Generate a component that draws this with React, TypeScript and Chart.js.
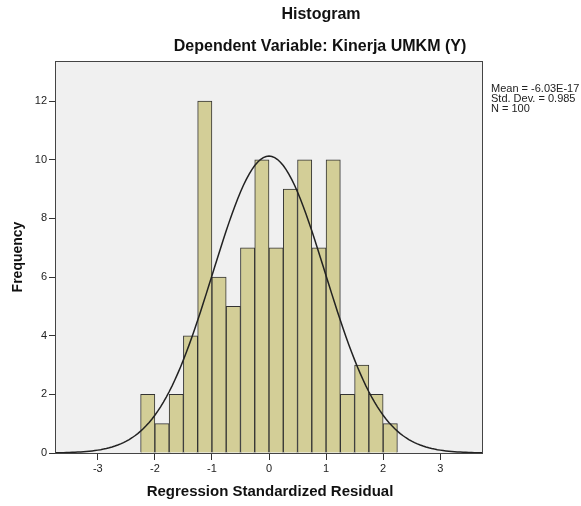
import React, { useEffect, useRef } from "react";
import { Chart, registerables } from "chart.js";

Chart.register(...registerables);

const binCenters = [
  -2.125, -1.875, -1.625, -1.375, -1.125, -0.875, -0.625, -0.375, -0.125,
  0.125, 0.375, 0.625, 0.875, 1.125, 1.375, 1.625, 1.875, 2.125,
];
const frequencies = [2, 1, 2, 4, 12, 6, 5, 7, 10, 7, 9, 10, 7, 10, 2, 3, 2, 1];
const xTicks = [-3, -2, -1, 0, 1, 2, 3];
const yTicks = [0, 2, 4, 6, 8, 10, 12];
const statLines = ["Mean = -6.03E-17", "Std. Dev. = 0.985", "N = 100"];
const meanValue = -6.03e-17;
const stdDev = 0.985;
const nObs = 100;
const binWidth = 0.25;
const xMin = -3.75;
const xMax = 3.75;
const yMax = 13.37;

// Normal curve defined by the stated Mean, Std. Dev. and N
const curveXs: number[] = [];
for (let i = 0; i <= 150; i++) curveXs.push(xMin + (i * (xMax - xMin)) / 150);
const curve = curveXs.map((x) => ({
  x,
  y:
    (nObs * binWidth) / (stdDev * Math.sqrt(2 * Math.PI)) *
    Math.exp(-((x - meanValue) ** 2) / (2 * stdDev * stdDev)),
}));

const FONT = "'Liberation Sans', Arial, sans-serif";

export default function App() {
  const ref = useRef<HTMLCanvasElement>(null);
  useEffect(() => {
    if (!ref.current) return;
    const decor = {
      id: "decor",
      beforeDatasetsDraw(chart: any) {
        const { ctx, chartArea: a } = chart;
        ctx.save();
        ctx.fillStyle = "#F0F0F0";
        ctx.fillRect(a.left, a.top, a.right - a.left, a.bottom - a.top);
        ctx.restore();
      },
      afterDraw(chart: any) {
        const { ctx, chartArea: a } = chart;
        ctx.save();
        ctx.strokeStyle = "#444";
        ctx.lineWidth = 1;
        ctx.strokeRect(a.left + 0.5, a.top + 0.5, a.right - a.left - 1, a.bottom - a.top);
        ctx.fillStyle = "#111";
        ctx.textAlign = "center";
        ctx.textBaseline = "middle";
        ctx.font = `bold 16px ${FONT}`;
        ctx.fillText("Histogram", 321, 15);
        ctx.fillText("Dependent Variable: Kinerja UMKM (Y)", 320, 47);
        ctx.font = `bold 15px ${FONT}`;
        ctx.fillText("Regression Standardized Residual", 270, 492);
        ctx.font = `bold 14px ${FONT}`;
        ctx.save();
        ctx.translate(18, (a.top + a.bottom) / 2);
        ctx.rotate(-Math.PI / 2);
        ctx.fillText("Frequency", 0, 0);
        ctx.restore();
        ctx.font = `11px ${FONT}`;
        ctx.textAlign = "left";
        ctx.fillStyle = "#222";
        statLines.forEach((t, i) => ctx.fillText(t, 491, 89 + i * 9.8));
        ctx.restore();
      },
    };
    const chart = new Chart(ref.current, {
      type: "bar",
      data: {
        datasets: [
          {
            type: "line",
            data: curve,
            borderColor: "#222",
            borderWidth: 1.5,
            pointRadius: 0,
            tension: 0,
            order: 0,
          } as any,
          {
            type: "bar",
            data: binCenters.map((x, i) => ({ x, y: frequencies[i] })),
            backgroundColor: "#D3CE97",
            borderColor: "#333",
            borderWidth: 1,
            barPercentage: 1,
            categoryPercentage: 1,
            order: 1,
          } as any,
        ],
      },
      options: {
        responsive: false,
        animation: false,
        layout: { padding: { left: 0, top: 61, right: 98, bottom: 0 } },
        plugins: { legend: { display: false }, tooltip: { enabled: false } },
        scales: {
          x: {
            type: "linear",
            min: xMin,
            max: xMax,
            offset: false,
            afterBuildTicks: (s: any) => {
              s.ticks = xTicks.map((v) => ({ value: v }));
            },
            afterFit: (s: any) => {
              s.height = 53;
            },
            grid: { display: true, offset: false, drawOnChartArea: false, drawTicks: true, tickLength: 7, color: "#333" },
            border: { display: false },
            ticks: { color: "#222", font: { family: FONT, size: 11 }, padding: 2, maxRotation: 0 },
          },
          y: {
            type: "linear",
            min: 0,
            max: yMax,
            afterBuildTicks: (s: any) => {
              s.ticks = yTicks.map((v) => ({ value: v }));
            },
            afterFit: (s: any) => {
              s.width = 55;
            },
            grid: { display: true, drawOnChartArea: false, drawTicks: true, tickLength: 6, color: "#333" },
            border: { display: false },
            ticks: { color: "#222", font: { family: FONT, size: 11 }, padding: 2 },
          },
        },
      },
      plugins: [decor],
    } as any);
    return () => chart.destroy();
  }, []);
  return (
    <div style={{ position: "fixed", left: 0, top: 0, width: 581, height: 506, background: "#fff" }}>
      <canvas ref={ref} width={581} height={506} style={{ display: "block" }} />
    </div>
  );
}
